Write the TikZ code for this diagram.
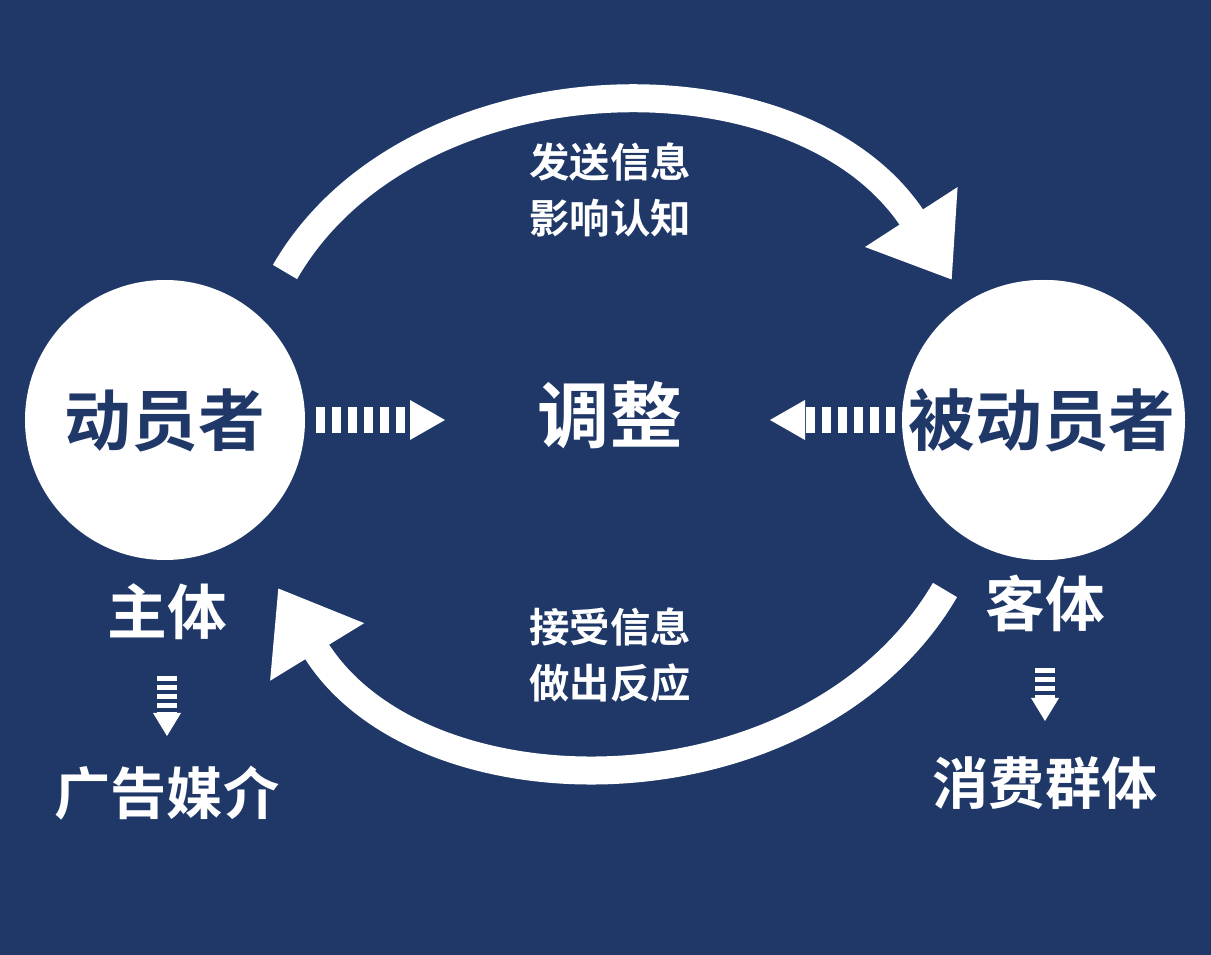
\documentclass[tikz,border=0pt]{standalone}
\usepackage{fontspec}
\setmainfont{Noto Sans CJK SC}[BoldFont={Noto Sans CJK SC Bold}]
\usetikzlibrary{arrows.meta}
\definecolor{navy}{HTML}{1F3868}
\tikzset{actor/.style={circle, fill=white, minimum size=280*0.02cm, inner sep=0pt,
        text=navy, font=\bfseries\fontsize{38}{40}\selectfont},
    word/.style={text=white, font=\bfseries\fontsize{34}{36}\selectfont},
    note/.style={text=white, align=center, font=\bfseries\fontsize{23}{32}\selectfont},
    flow/.style={white, line width=0.56cm, -{Triangle[length=1.5cm,width=2.1cm]}},
    dots/.style={white, line width=0.52cm, dash pattern=on 0.18cm off 0.14cm},
    bars/.style={white, line width=0.4cm, dash pattern=on 0.1cm off 0.08cm}}
\begin{document}
\begin{tikzpicture}[x=0.02cm, y=-0.02cm]
\fill[navy] (0,0) rectangle (1211,955);
\useasboundingbox (0,0) rectangle (1211,955);

\node[actor] (src) at (165,420) {动员者};
\node[actor] (dst) at (1045,420) {};
\node[actor, anchor=center] at (1042,420) {被动员者};
\node[word, font=\bfseries\fontsize{41}{43}\selectfont] (mid) at (610,415) {调整};

\node[word] (subj) at (167,612) {主体};
\node[word] (obj) at (1045,603) {客体};
\node[word, font=\bfseries\fontsize{32}{34}\selectfont] (media) at (167,793) {广告媒介};
\node[word, font=\bfseries\fontsize{32}{34}\selectfont] (crowd) at (1045,783) {消费群体};

\node[note] (send) at (610,190) {发送信息\\影响认知};
\node[note] (recv) at (610,655) {接受信息\\做出反应};

% outer loop
\draw[flow] (285,272) .. controls (410,55) and (800,45) .. (952,280);
\draw[flow] (945,590) .. controls (810,820) and (420,820) .. (278,588);

% dotted arrows to the middle
\draw[dots] (316,420) -- (412,420);
\fill[white] (410,400) -- (445,420) -- (410,440) -- cycle;
\draw[dots] (895,420) -- (802,420);
\fill[white] (805,400) -- (770,420) -- (805,440) -- cycle;

% small down arrows
\draw[bars] (167,676) -- (167,715);
\fill[white] (153,713) -- (181,713) -- (167,736) -- cycle;
\draw[bars] (1045,668) -- (1045,700);
\fill[white] (1031,698) -- (1059,698) -- (1045,721) -- cycle;
\end{tikzpicture}
\end{document}
